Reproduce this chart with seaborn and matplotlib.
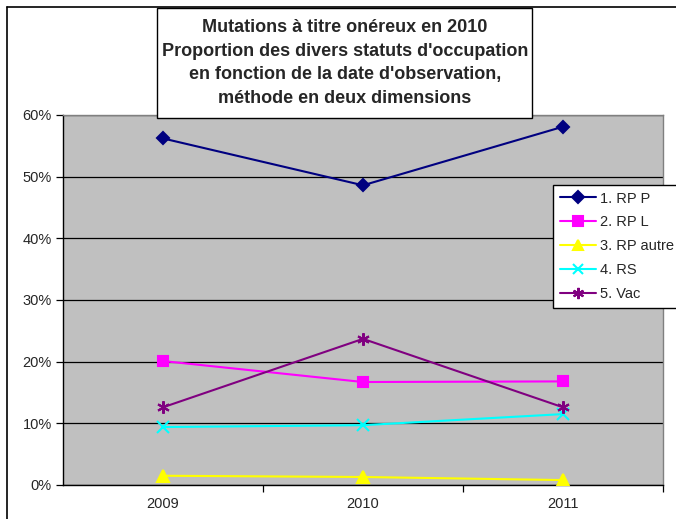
import matplotlib
matplotlib.use('Agg')
import matplotlib.pyplot as plt
import matplotlib.patches as patches
from matplotlib.lines import Line2D
from matplotlib.ticker import PercentFormatter, FixedLocator
import seaborn as sns
import pandas as pd

years = ['2009', '2010', '2011']
series_names = ['1. RP P', '2. RP L', '3. RP autre', '4. RS', '5. Vac']
rp_p = [56.2, 48.6, 58.1]
rp_l = [20.1, 16.7, 16.8]
rp_autre = [1.5, 1.3, 0.8]
rs = [9.4, 9.7, 11.5]
vac = [12.6, 23.7, 12.6]

colors = ['#000080', '#FF00FF', '#FFFF00', '#00FFFF', '#800080']
markers = ['D', 's', '^', 'x', (6, 2, 0)]
sizes = [6.5, 7.5, 8.5, 8, 9]

title = ("Mutations à titre onéreux en 2010\n"
         "Proportion des divers statuts d'occupation\n"
         "en fonction de la date d'observation,\n"
         "méthode en deux dimensions")

# long-form table for seaborn
values = [rp_p, rp_l, rp_autre, rs, vac]
rows = []
for name, vals in zip(series_names, values):
    for y, v in zip(years, vals):
        rows.append({'annee': y, 'serie': name, 'part': v})
df = pd.DataFrame(rows)

sns.set_style('white')
plt.rcParams['font.family'] = ['Liberation Sans', 'DejaVu Sans']

fig = plt.figure(figsize=(6.76, 5.19), dpi=100)
ax = fig.add_axes([63 / 676, 1 - 485 / 519, 600 / 676, 370 / 519])
ax.set_facecolor('#C0C0C0')

for i, name in enumerate(series_names):
    sub = df[df['serie'] == name]
    sns.lineplot(data=sub, x='annee', y='part', ax=ax, color=colors[i],
                 marker=markers[i], markersize=sizes[i], markeredgecolor=colors[i],
                 markeredgewidth=1.5, linewidth=1.5, label=name, zorder=3)

ax.set_xlim(-0.5, 2.5)
ax.set_ylim(0, 60)
ax.yaxis.set_major_formatter(PercentFormatter(decimals=0))
ax.set_yticks(range(0, 61, 10))
ax.grid(axis='y', color='black', linewidth=0.9, zorder=1)
ax.set_axisbelow(True)
ax.set_xlabel('')
ax.set_ylabel('')

ax.tick_params(axis='y', direction='out', length=5, width=0.9, color='black',
               labelsize=10.5, pad=3, left=True)
ax.tick_params(axis='x', which='major', length=0, labelsize=10.5, pad=9)
ax.xaxis.set_minor_locator(FixedLocator([0.5, 1.5, 2.5]))
ax.tick_params(axis='x', which='minor', direction='out', length=5, width=0.9,
               color='black', bottom=True)

for side in ['left', 'bottom']:
    ax.spines[side].set_color('black')
    ax.spines[side].set_linewidth(1.0)
for side in ['top', 'right']:
    ax.spines[side].set_color('#808080')
    ax.spines[side].set_linewidth(1.0)

leg = ax.legend(loc='upper left', bbox_to_anchor=(553 / 676, 1 - 185 / 519),
                bbox_transform=fig.transFigure, frameon=True, fancybox=False,
                fontsize=10.5, handlelength=2.5, borderpad=0.45, labelspacing=0.68,
                handletextpad=0.3, borderaxespad=0, markerscale=0.9)
leg.get_frame().set_edgecolor('black')
leg.get_frame().set_linewidth(1.0)
leg.get_frame().set_facecolor('white')
leg.get_frame().set_alpha(1)
leg.set_zorder(10)

# outer chart border (cut off at right and bottom)
fig.add_artist(Line2D([7 / 676, 1.0], [1 - 7 / 519, 1 - 7 / 519],
                      transform=fig.transFigure, color='black', linewidth=1.2))
fig.add_artist(Line2D([7 / 676, 7 / 676], [0.0, 1 - 7 / 519],
                      transform=fig.transFigure, color='black', linewidth=1.2))

# title box
fig.add_artist(patches.Rectangle((157 / 676, 1 - 118 / 519), 375 / 676, 110 / 519,
                                 transform=fig.transFigure, facecolor='white',
                                 edgecolor='black', linewidth=1.0, zorder=5))
fig.text(345 / 676, 1 - 63 / 519, title, ha='center', va='center',
         fontsize=13, fontweight='bold', linespacing=1.5, zorder=6)

fig.savefig('out.png', dpi=100)
